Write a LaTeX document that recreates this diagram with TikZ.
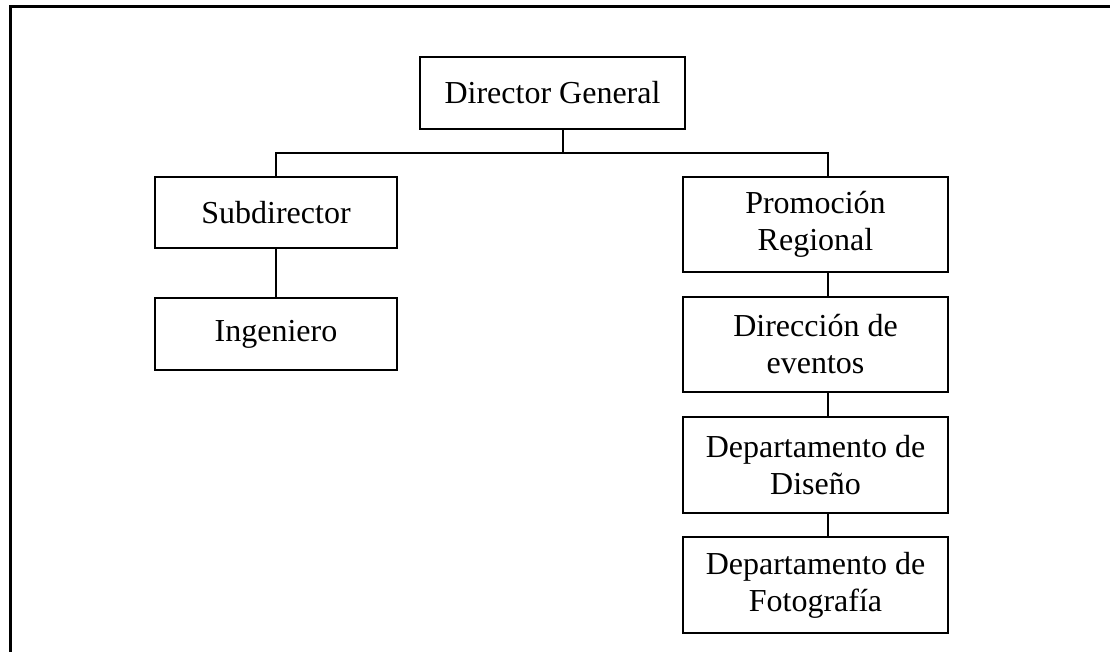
\documentclass[tikz,border=0pt]{standalone}
\usepackage{fontspec}
\setmainfont{Liberation Serif}
\begin{document}
\begin{tikzpicture}[x=1pt,y=-1pt,
  box/.style={draw, line width=2.3pt, align=center, inner sep=0pt,
    font=\fontsize{32}{37}\selectfont},
  wide/.style={minimum width=265pt},
  narrow/.style={minimum width=242pt},
  conn/.style={line width=2.3pt}]
\useasboundingbox (0,0) rectangle (1110,652);
\draw[line width=3pt] (10,652) -- (10,7) -- (1110,7);
\node[box,wide,minimum height=72pt] (dg) at (552.5,93) {Director General};
\node[box,narrow,minimum height=71pt] (sub) at (276,212.5) {Subdirector};
\node[box,narrow,minimum height=72pt] (ing) at (276,334) {Ingeniero};
\node[box,wide,minimum height=95pt] (pro) at (815.5,224.5) {Promoción\\Regional};
\node[box,wide,minimum height=95pt] (dir) at (815.5,344.5) {Dirección de\\eventos};
\node[box,wide,minimum height=96pt] (dis) at (815.5,465) {Departamento de\\Diseño};
\node[box,wide,minimum height=96pt] (fot) at (815.5,585) {Departamento de\\Fotografía};
\coordinate (bus) at (563,153);
\coordinate (rx) at (828,0);
\draw[conn] (dg.south -| bus) -- (bus);
\draw[conn] (sub.north) -- (bus -| sub.north) -- (bus -| rx) -- (pro.north -| rx);
\draw[conn] (sub.south) -- (ing.north);
\draw[conn] (pro.south -| rx) -- (dir.north -| rx);
\draw[conn] (dir.south -| rx) -- (dis.north -| rx);
\draw[conn] (dis.south -| rx) -- (fot.north -| rx);
\end{tikzpicture}
\end{document}
